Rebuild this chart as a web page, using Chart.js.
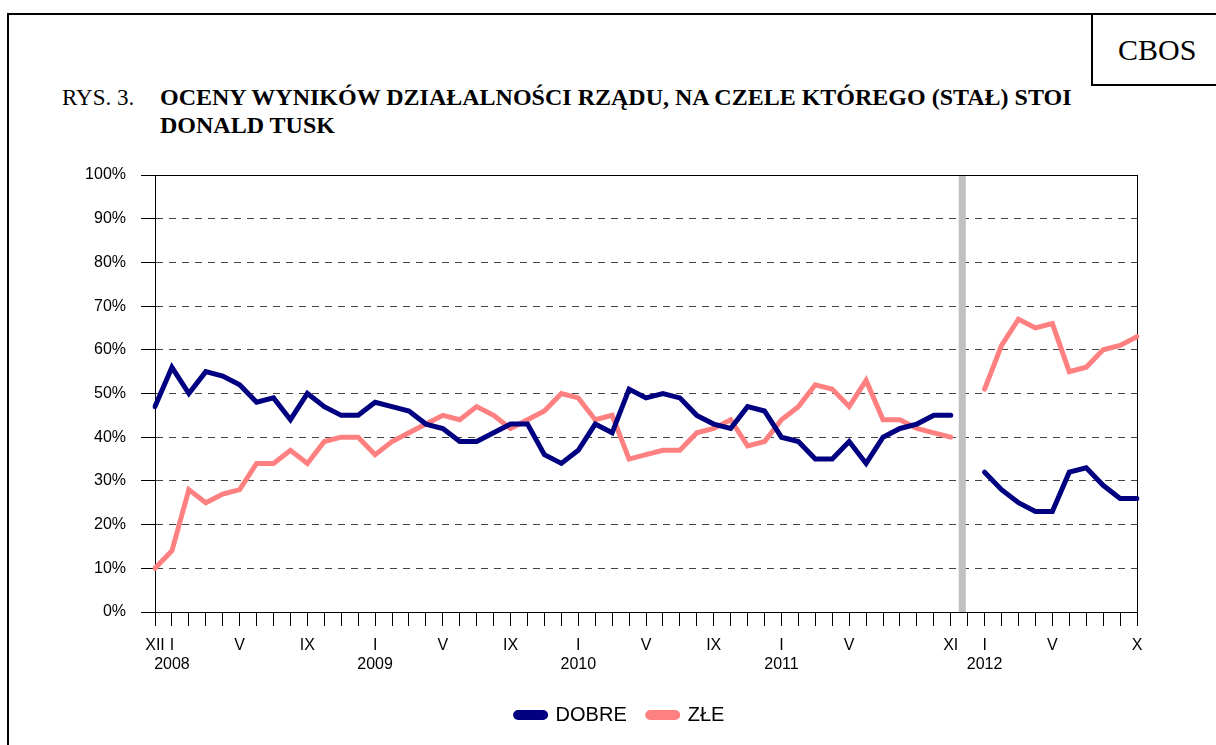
<!DOCTYPE html>
<html>
<head>
<meta charset="utf-8">
<script src="https://cdn.jsdelivr.net/npm/chart.js@4"></script>
<style>
  body { margin: 0; background: #fff; }
  #page { position: relative; width: 1216px; height: 745px; overflow: hidden; }
  #frame { position: absolute; left: 7px; top: 13px; width: 1300px; height: 800px; border: 2px solid #000; }
  #cbos { position: absolute; left: 1091px; top: 13px; width: 200px; height: 69px; border: 2px solid #000; }
  .serif { font-family: "Liberation Serif", "Times New Roman", serif; color: #000; position: absolute; white-space: nowrap; }
  #cbosText { left: 1118px; top: 32px; font-size: 30px; line-height: 36px; }
  #rys { left: 62px; top: 84px; font-size: 23px; line-height: 28px; }
  #title { left: 160px; top: 83px; font-size: 24px; line-height: 28px; font-weight: bold; }
  canvas { position: absolute; left: 0; top: 0; }
</style>
</head>
<body>
<div id="page">
  <div id="frame"></div>
  <div id="cbos"></div>
  <div id="cbosText" class="serif">CBOS</div>
  <div id="rys" class="serif">RYS. 3.</div>
  <div id="title" class="serif">OCENY WYNIKÓW DZIAŁALNOŚCI RZĄDU, NA CZELE KTÓREGO (STAŁ) STOI<br>DONALD TUSK</div>
  <canvas id="lineChart" width="1216" height="745"></canvas>
</div>
<script>
// months XII 2007 .. XI 2011, one empty slot (XII 2011), I 2012 .. X 2012
const monthTicks = [
  'XII', 'I', '', '', '', 'V', '', '', '', 'IX', '', '', '',
  'I', '', '', '', 'V', '', '', '', 'IX', '', '', '',
  'I', '', '', '', 'V', '', '', '', 'IX', '', '', '',
  'I', '', '', '', 'V', '', '', '', '', '', 'XI',
  '',
  'I', '', '', '', 'V', '', '', '', '', 'X'
]
const yearTicks = {1: '2008', 13: '2009', 25: '2010', 37: '2011', 49: '2012'}

const dobre = [
  47, 56, 50, 55, 54, 52, 48, 49, 44, 50, 47, 45, 45,
  48, 47, 46, 43, 42, 39, 39, 41, 43, 43, 36, 34,
  37, 43, 41, 51, 49, 50, 49, 45, 43, 42, 47, 46,
  40, 39, 35, 35, 39, 34, 40, 42, 43, 45, 45,
  null,
  32, 28, 25, 23, 23, 32, 33, 29, 26, 26
]
const zle = [
  10, 14, 28, 25, 27, 28, 34, 34, 37, 34, 39, 40, 40,
  36, 39, 41, 43, 45, 44, 47, 45, 42, 44, 46, 50,
  49, 44, 45, 35, 36, 37, 37, 41, 42, 44, 38, 39,
  44, 47, 52, 51, 47, 53, 44, 44, 42, 41, 40,
  null,
  51, 61, 67, 65, 66, 55, 56, 60, 61, 63
]

Chart.defaults.font.family = 'Arial, "Liberation Sans", sans-serif'
Chart.defaults.color = '#000'

// gray separator between XI 2011 and I 2012, plus solid plot frame
const breakLine = {
  id: 'breakLine',
  afterLayout(chart) {
    // legend in the original sits a bit right of the page centre
    chart.legend.left += 14
    chart.legend.right += 14
  },
  beforeDatasetsDraw(chart) {
    const {ctx, chartArea, scales: {x}} = chart
    const p0 = x.getPixelForValue(47)
    const p1 = x.getPixelForValue(48)
    const px = p0 + (p1 - p0) * 0.68
    ctx.save()
    ctx.fillStyle = '#c0c0c0'
    ctx.fillRect(px - 3.5, chartArea.top, 7, chartArea.bottom - chartArea.top)
    ctx.strokeStyle = '#000'
    ctx.lineWidth = 1
    ctx.strokeRect(chartArea.left + 0.5, chartArea.top + 0.5, chartArea.right - chartArea.left, chartArea.bottom - chartArea.top)
    ctx.restore()
  }
}

const ctx = document.getElementById('lineChart').getContext('2d')

new Chart(ctx, {
  type: 'line',
  data: {
    labels: monthTicks.map((m, i) => i),
    datasets: [{
      label: 'DOBRE',
      data: dobre,
      borderColor: '#000080',
      backgroundColor: '#000080',
      borderWidth: 5,
    }, {
      label: 'ZŁE',
      data: zle,
      borderColor: '#ff8080',
      backgroundColor: '#ff8080',
      borderWidth: 5,
    }]
  },
  options: {
    responsive: false,
    animation: false,
    spanGaps: false,
    layout: {
      padding: {left: 75, right: 79, top: 175, bottom: 10}
    },
    elements: {
      point: { radius: 0 },
      line: { tension: 0, borderCapStyle: 'round', fill: false }
    },
    plugins: {
      legend: {
        position: 'bottom',
        labels: {
          boxWidth: 30,
          boxHeight: 5,
          useBorderRadius: true,
          borderRadius: 2.5,
          padding: 21,
          font: { size: 20 },
          color: '#000',
        }
      },
      tooltip: { enabled: false },
    },
    scales: {
      x: {
        offset: false,
        afterFit: (scale) => { scale.height = 72 },
        grid: {
          offset: false,
          drawOnChartArea: false,
          tickLength: 14,
          color: '#000',
        },
        border: { color: '#000' },
        ticks: {
          autoSkip: false,
          maxRotation: 0,
          padding: 10,
          font: { size: 16 },
          callback: (value, i) => yearTicks[i] ? [monthTicks[i], yearTicks[i]] : monthTicks[i],
        },
      },
      y: {
        min: 0,
        max: 100,
        afterFit: (scale) => { scale.width = 80 },
        grid: {
          color: '#444',
          tickColor: '#000',
          tickLength: 14,
        },
        border: { color: '#000', dash: [7, 6] },
        ticks: {
          stepSize: 10,
          padding: 15,
          font: { size: 16 },
          callback: (value) => value + '%',
        },
      },
    },
  },
  plugins: [breakLine],
})
</script>
</body>
</html>
